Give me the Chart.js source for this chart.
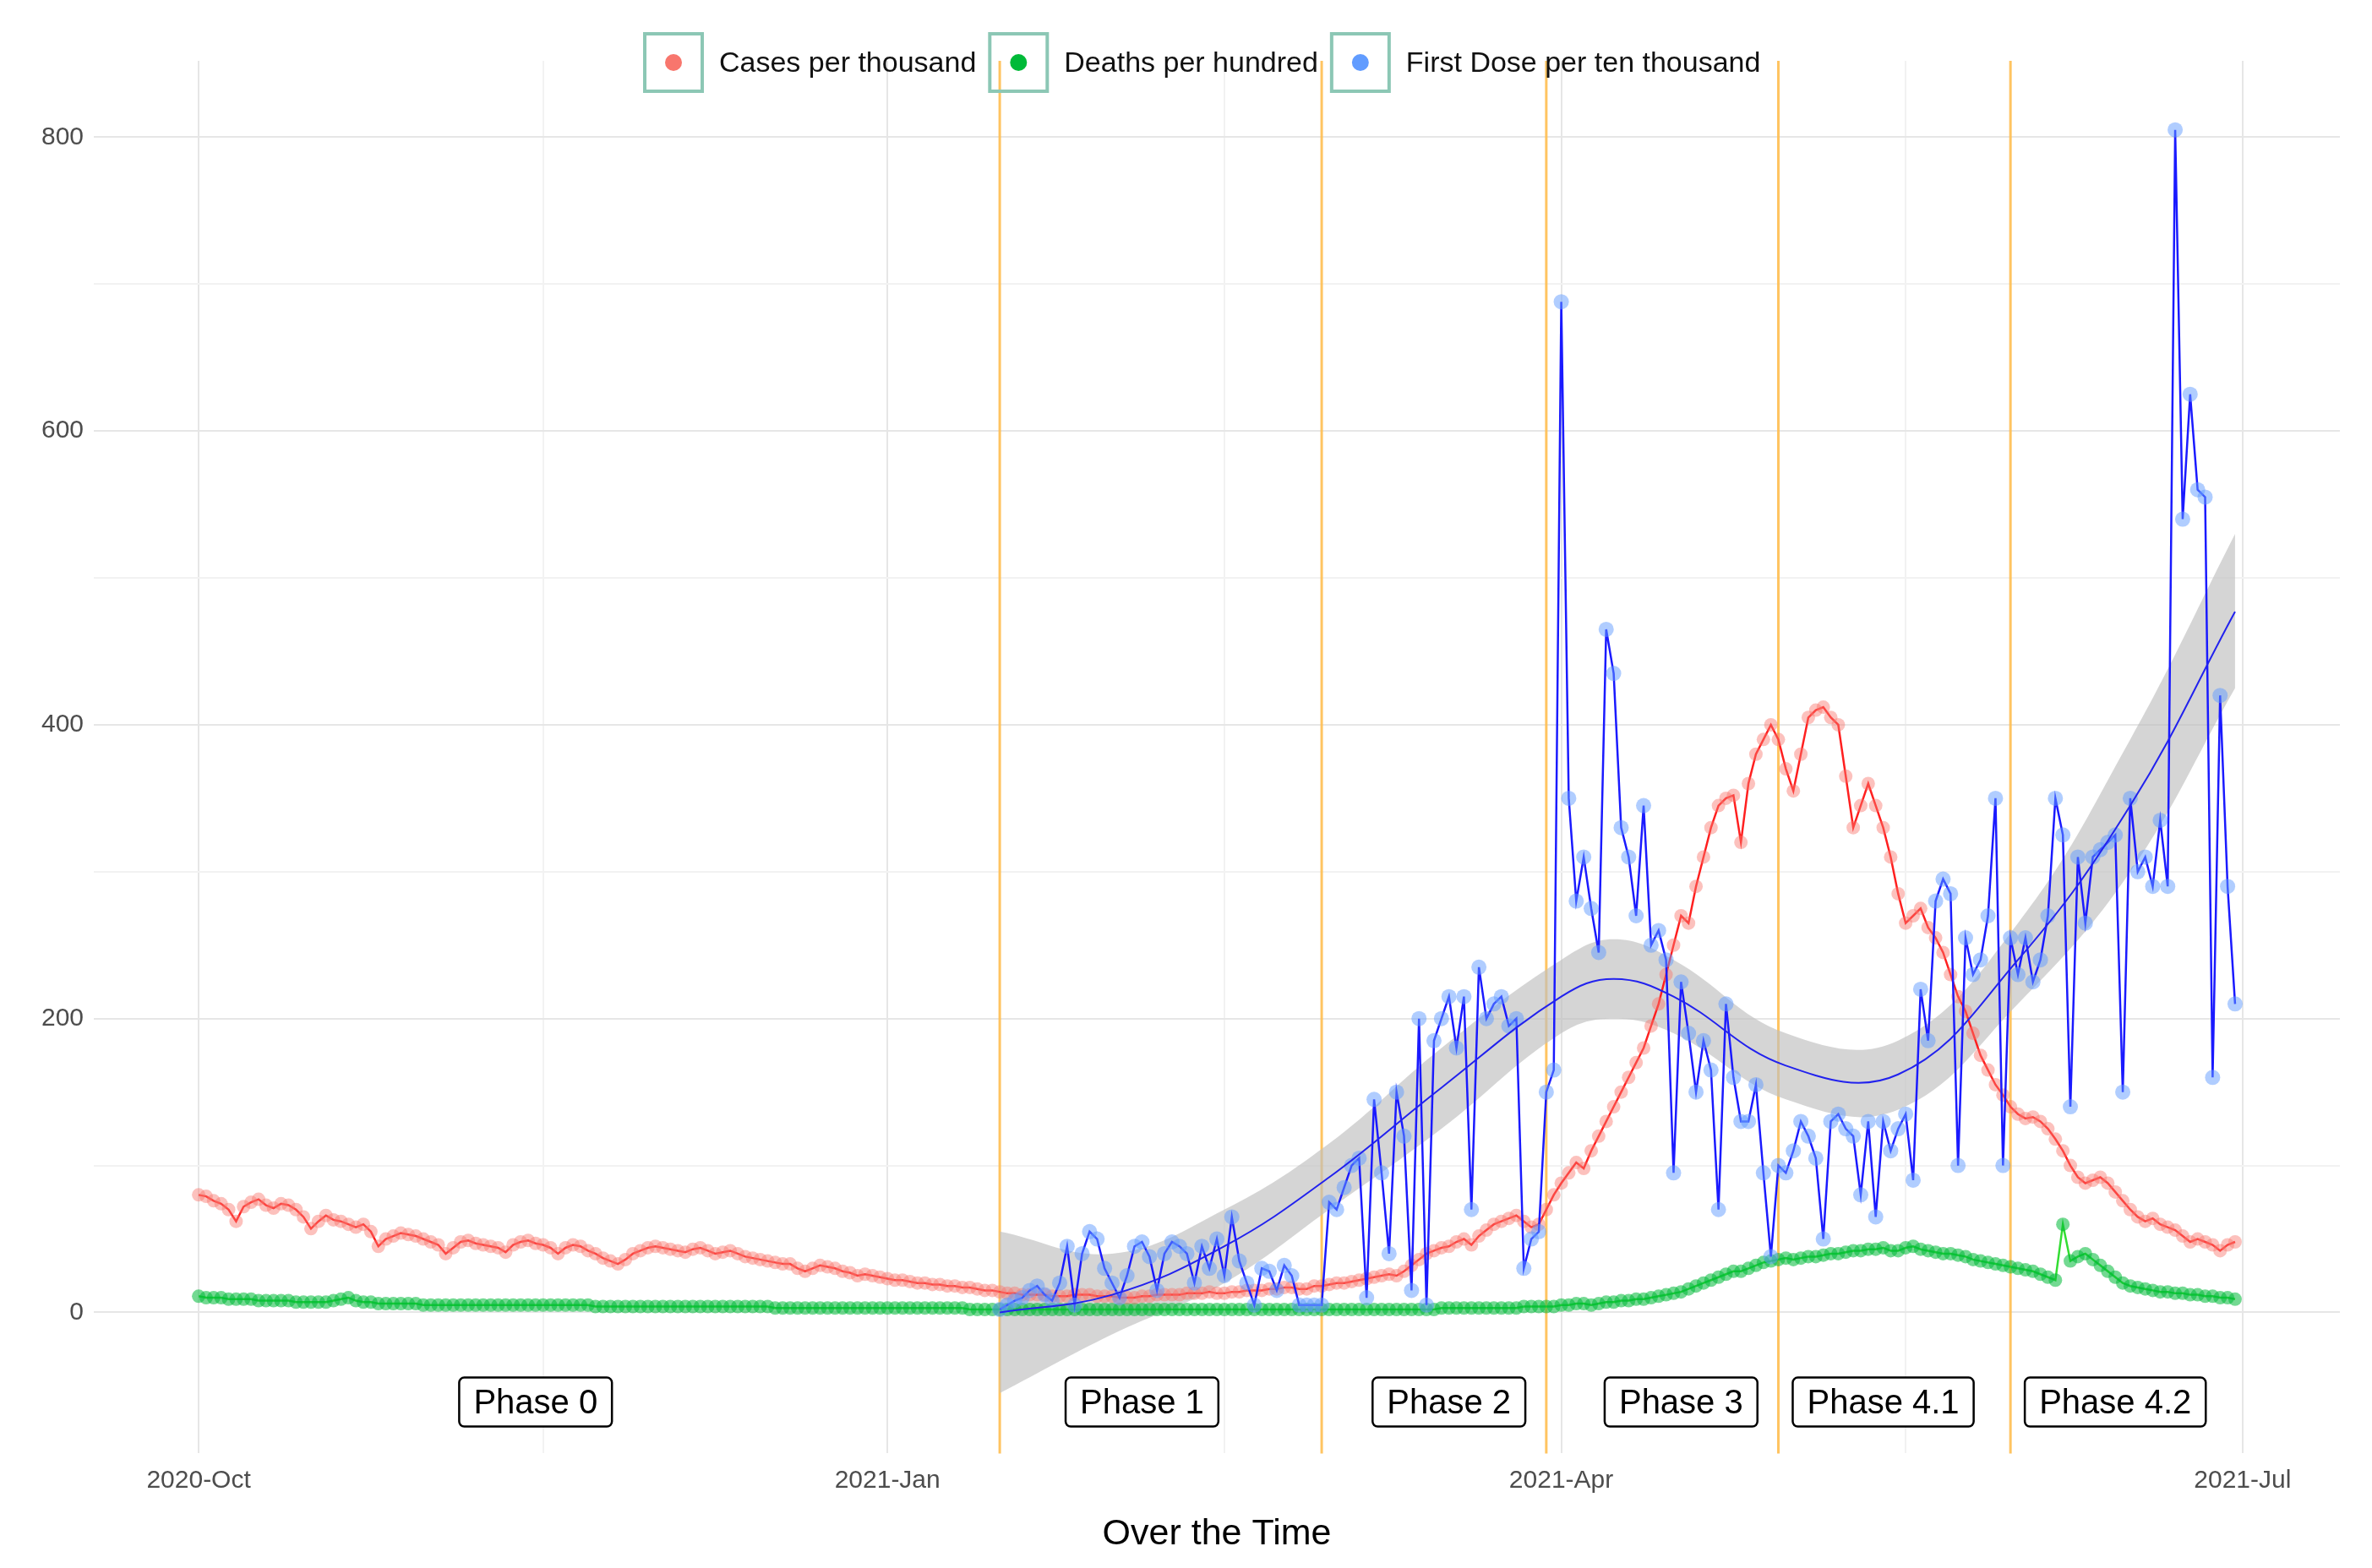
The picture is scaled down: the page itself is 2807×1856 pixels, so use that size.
<!DOCTYPE html>
<html>
<head>
<meta charset="utf-8">
<script src="https://cdn.jsdelivr.net/npm/chart.js@4"></script>
<style>
  body { margin: 0; background: #fff; }
  #wrap { width: 2807px; height: 1856px; }
</style>
</head>
<body>
<div id="wrap"><canvas id="chart" width="2807" height="1856"></canvas></div>
<script>
// day index 0 = 2020-10-01
const tickDays = [0, 46, 92, 137, 182, 228, 273];
const tickLabels = { 0: '2020-Oct', 92: '2021-Jan', 182: '2021-Apr', 273: '2021-Jul' };
const yTicks = [0, 100, 200, 300, 400, 500, 600, 700, 800];

const casesStart = 0;
const cases = [
  80,79,76,74,70,62,72,75,77,73,71,74,73,70,65,57,62,66,63,62,60,58,60,55,45,50,52,54,53,52,50,
  48,46,40,44,48,49,47,46,45,44,41,46,48,49,47,46,44,40,44,46,45,42,40,37,35,33,36,40,42,44,
  45,44,43,42,41,43,44,42,40,41,42,40,38,37,36,35,34,33,33,30,28,30,32,31,30,28,27,25,26,25,24,
  23,22,22,21,20,20,19,19,18,18,17,17,16,15,15,14,13,13,12,12,12,12,11,11,11,12,12,12,11,11,11,
  10,10,10,11,11,12,12,12,12,13,13,13,14,13,13,14,14,15,15,15,16,16,17,17,16,16,18,18,
  19,20,20,21,22,23,24,25,26,25,28,32,36,40,42,44,45,48,50,46,52,56,60,62,64,66,62,58,60,70,80,
  88,95,102,98,110,120,130,140,150,160,170,180,195,210,230,250,270,265,290,310,330,345,350,352,320,360,380,390,400,390,
  370,355,380,405,410,412,405,400,365,330,345,360,345,330,310,285,265,270,275,262,255,245,230,215,205,190,175,165,155,148,140,
  135,132,133,130,125,118,110,100,92,88,90,92,88,82,76,70,65,62,64,60,58,56,52,48,50,48,46,42,46,48
];

const deathsStart = 0;
const deaths = [
  11,10,10,10,9,9,9,9,8,8,8,8,8,7,7,7,7,7,8,9,10,8,7,7,6,6,6,6,6,6,5,
  5,5,5,5,5,5,5,5,5,5,5,5,5,5,5,5,5,5,5,5,5,5,4,4,4,4,4,4,4,4,
  4,4,4,4,4,4,4,4,4,4,4,4,4,4,4,4,3,3,3,3,3,3,3,3,3,3,3,3,3,3,3,
  3,3,3,3,3,3,3,3,3,3,3,2,2,2,2,2,2,2,2,2,2,2,2,2,2,2,2,2,2,2,2,
  2,2,2,2,2,2,2,2,2,2,2,2,2,2,2,2,2,2,2,2,2,2,2,2,2,2,2,2,
  2,2,2,2,2,2,2,2,2,2,2,2,2,2,2,3,3,3,3,3,3,3,3,3,3,3,4,4,4,4,4,
  5,5,6,6,5,6,7,7,8,8,9,9,10,11,12,13,14,16,18,20,22,24,26,28,28,30,32,34,35,36,
  37,36,37,38,38,39,40,40,41,42,42,43,43,44,42,42,44,45,43,42,41,40,40,39,38,36,35,34,33,32,31,
  30,29,28,26,24,22,60,35,38,40,36,32,28,24,20,18,17,16,15,14,14,13,13,12,12,11,11,10,10,9
];

const doseStart = 107; // 2021-01-16
const firstDose = [
  2,5,8,10,15,18,12,8,20,45,5,40,55,50,30,20,
  10,25,45,48,38,15,40,48,45,40,20,45,30,50,25,65,35,20,5,30,28,15,32,25,5,5,5,5,
  75,70,85,100,105,10,145,95,40,150,120,15,200,5,185,200,215,180,215,70,235,200,210,215,195,200,30,50,55,150,165,
  688,350,280,310,275,245,465,435,330,310,270,345,250,260,240,95,225,190,150,185,165,70,210,160,130,130,155,95,38,100,
  95,110,130,120,105,50,130,135,125,120,80,130,65,130,110,125,135,90,220,185,280,295,285,100,255,230,240,270,350,100,255,
  230,255,225,240,270,350,325,140,310,265,310,315,320,325,150,350,300,310,290,335,290,805,540,625,560,555,160,420,290,210
];

// loess fit of first dose, with confidence band
const smoothDays = [107, 122, 137, 151, 166, 182, 189, 197, 212, 227, 243, 258, 272];
const smoothFit  = [0, 12, 45, 92, 153, 215, 227, 215, 168, 162, 240, 345, 477];
const smoothLow  = [-55, -15, 20, 70, 125, 190, 200, 190, 145, 138, 210, 300, 425];
const smoothHigh = [55, 40, 70, 115, 180, 240, 254, 240, 190, 185, 265, 390, 530];

const phaseBreaks = [107, 150, 180, 211, 242];
const phaseNames = ['Phase 0', 'Phase 1', 'Phase 2', 'Phase 3', 'Phase 4.1', 'Phase 4.2'];
const phaseCenters = [45, 126, 167, 198, 225, 256];
const phaseLabelY = -61;

const toPoints = (start, arr) => arr.map((v, i) => ({ x: start + i, y: v }));
const pairPoints = (xs, ys) => xs.map((x, i) => ({ x: x, y: ys[i] }));

const legendItems = [
  { text: 'Cases per thousand', color: '#F8766D' },
  { text: 'Deaths per hundred', color: '#00BA38' },
  { text: 'First Dose per ten thousand', color: '#619CFF' }
];

const phasePlugin = {
  id: 'phases',
  beforeDatasetsDraw(chart) {
    const { ctx, chartArea, scales } = chart;
    ctx.save();
    ctx.strokeStyle = 'rgba(255, 190, 80, 0.9)';
    ctx.lineWidth = 3;
    phaseBreaks.forEach(d => {
      const x = scales.x.getPixelForValue(d);
      ctx.beginPath();
      ctx.moveTo(x, chartArea.top);
      ctx.lineTo(x, chartArea.bottom);
      ctx.stroke();
    });
    ctx.restore();
  },
  afterDatasetsDraw(chart) {
    const { ctx, scales } = chart;
    ctx.save();
    ctx.font = '40px "Liberation Sans", Arial, sans-serif';
    ctx.textAlign = 'center';
    ctx.textBaseline = 'middle';
    const y = scales.y.getPixelForValue(phaseLabelY);
    phaseNames.forEach((name, i) => {
      const x = scales.x.getPixelForValue(phaseCenters[i]);
      const w = ctx.measureText(name).width + 34;
      const h = 58;
      ctx.beginPath();
      ctx.roundRect(x - w / 2, y - h / 2, w, h, 6);
      ctx.fillStyle = '#fff';
      ctx.fill();
      ctx.lineWidth = 2.5;
      ctx.strokeStyle = '#000';
      ctx.stroke();
      ctx.fillStyle = '#000';
      ctx.fillText(name, x, y + 2);
    });
    ctx.restore();
  }
};

const legendPlugin = {
  id: 'topLegend',
  afterDraw(chart) {
    const { ctx } = chart;
    ctx.save();
    ctx.font = '34px "Liberation Sans", Arial, sans-serif';
    ctx.textBaseline = 'middle';
    let x = 763;
    const yc = 74;
    const box = 68;
    legendItems.forEach(item => {
      ctx.strokeStyle = '#8cc7b5';
      ctx.lineWidth = 4;
      ctx.strokeRect(x, yc - box / 2, box, box);
      ctx.beginPath();
      ctx.arc(x + box / 2, yc, 10, 0, Math.PI * 2);
      ctx.fillStyle = item.color;
      ctx.fill();
      x += box + 20;
      ctx.fillStyle = '#111';
      ctx.fillText(item.text, x, yc + 2);
      x += ctx.measureText(item.text).width + 16;
    });
    ctx.restore();
  }
};

new Chart(document.getElementById('chart').getContext('2d'), {
  type: 'line',
  data: {
    datasets: [
      {
        label: 'band low',
        data: pairPoints(smoothDays, smoothLow),
        borderWidth: 0,
        pointRadius: 0,
        tension: 0.4,
        fill: false,
        order: 10
      },
      {
        label: 'band high',
        data: pairPoints(smoothDays, smoothHigh),
        borderWidth: 0,
        pointRadius: 0,
        tension: 0.4,
        fill: '-1',
        backgroundColor: 'rgba(190, 190, 190, 0.65)',
        order: 9
      },
      {
        label: 'Deaths per hundred',
        data: toPoints(deathsStart, deaths),
        borderColor: '#33dd33',
        borderWidth: 2.5,
        pointRadius: 8,
        pointBackgroundColor: 'rgba(0, 186, 56, 0.55)',
        pointBorderWidth: 0,
        order: 5
      },
      {
        label: 'Cases per thousand',
        data: toPoints(casesStart, cases),
        borderColor: '#ff2020',
        borderWidth: 2.5,
        pointRadius: 8,
        pointBackgroundColor: 'rgba(248, 118, 109, 0.45)',
        pointBorderWidth: 0,
        order: 4
      },
      {
        label: 'First Dose per ten thousand',
        data: toPoints(doseStart, firstDose),
        borderColor: '#1a1aff',
        borderWidth: 2.5,
        pointRadius: 9,
        pointBackgroundColor: 'rgba(97, 156, 255, 0.5)',
        pointBorderWidth: 0,
        order: 3
      },
      {
        label: 'smooth',
        data: pairPoints(smoothDays, smoothFit),
        borderColor: '#2222ee',
        borderWidth: 2,
        pointRadius: 0,
        tension: 0.4,
        order: 1
      }
    ]
  },
  options: {
    responsive: false,
    animation: false,
    devicePixelRatio: 1,
    layout: { padding: { top: 72, right: 38, left: 37, bottom: 10 } },
    plugins: {
      legend: { display: false },
      tooltip: { enabled: false }
    },
    scales: {
      x: {
        type: 'linear',
        min: -14,
        max: 286,
        afterBuildTicks: axis => { axis.ticks = tickDays.map(v => ({ value: v })); },
        grid: {
          color: ctx => (tickLabels[ctx.tick && ctx.tick.value] ? '#e6e6e6' : '#f2f2f2'),
          lineWidth: 2,
          drawTicks: false
        },
        border: { display: false },
        ticks: {
          color: '#4d4d4d',
          font: { size: 30, family: '"Liberation Sans", Arial, sans-serif' },
          padding: 14,
          maxRotation: 0,
          autoSkip: false,
          callback: v => tickLabels[v] || ''
        },
        title: {
          display: true,
          text: 'Over the Time',
          color: '#000',
          font: { size: 43, family: '"Liberation Sans", Arial, sans-serif' },
          padding: { top: 6 }
        }
      },
      y: {
        min: -96,
        max: 852,
        afterBuildTicks: axis => { axis.ticks = yTicks.map(v => ({ value: v })); },
        grid: {
          color: ctx => (ctx.tick && ctx.tick.value % 200 === 0 ? '#e6e6e6' : '#f2f2f2'),
          lineWidth: 2,
          drawTicks: false
        },
        border: { display: false },
        ticks: {
          color: '#4d4d4d',
          font: { size: 30, family: '"Liberation Sans", Arial, sans-serif' },
          padding: 12,
          callback: v => (v % 200 === 0 ? String(v) : '')
        }
      }
    }
  },
  plugins: [phasePlugin, legendPlugin]
});
</script>
</body>
</html>
